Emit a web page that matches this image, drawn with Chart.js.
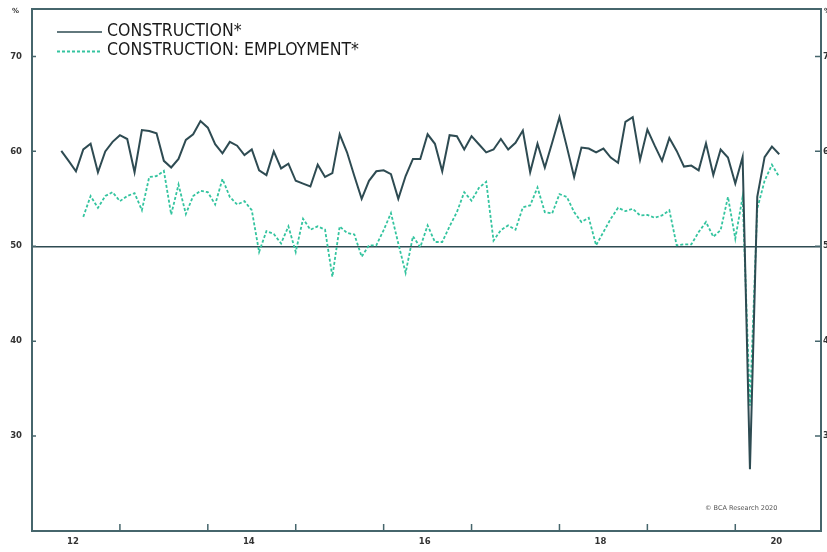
<!DOCTYPE html>
<html><head><meta charset="utf-8">
<script src="https://cdn.jsdelivr.net/npm/chart.js@4"></script>
<style>html,body{margin:0;padding:0;background:#fff;overflow:hidden}#wrap{width:827px;height:552px}</style>
</head><body><div id="wrap"><canvas id="c" width="827" height="552"></canvas></div>
<script>
// first observation: May 2012, monthly
const startYear = 2012, startMonth = 5;
const construction = [60.05, 59.0, 57.9, 60.2, 60.8, 57.8, 60.0, 61.0, 61.7, 61.3,
 57.8, 62.25, 62.15, 61.9, 59.0, 58.3, 59.2, 61.2, 61.8, 63.2,
 62.5, 60.75, 59.8, 61.0, 60.6, 59.6, 60.2, 58.0, 57.5, 60.0,
 58.2, 58.7, 56.9, 56.6, 56.3, 58.6, 57.3, 57.7, 61.8, 59.9,
 57.4, 55.0, 56.9, 57.9, 58.0, 57.6, 55.0, 57.4, 59.2, 59.2,
 61.8, 60.8, 57.9, 61.7, 61.6, 60.2, 61.6, 60.75, 59.9, 60.2,
 61.3, 60.2, 60.9, 62.2, 57.8, 60.8, 58.3, 60.9, 63.6, 60.5,
 57.3, 60.4, 60.3, 59.9, 60.3, 59.35, 58.8, 63.1, 63.6, 59.1,
 62.3, 60.6, 59.0, 61.4, 60.05, 58.4, 58.5, 58.0, 60.85, 57.5,
 60.2, 59.35, 56.6, 59.4, 26.5, 55.2, 59.4, 60.5, 59.7];
const employment = [null, null, null, 53.1, 55.3, 54.05, 55.3, 55.7, 54.75, 55.3,
 55.6, 53.8, 57.3, 57.4, 57.95, 53.35, 56.5, 53.4, 55.3, 55.85,
 55.7, 54.4, 57.1, 55.2, 54.4, 54.75, 53.8, 49.4, 51.6, 51.3,
 50.3, 52.1, 49.4, 52.9, 51.75, 52.1, 51.75, 46.8, 52.1, 51.4,
 51.25, 48.9, 50.1, 50.1, 51.7, 53.5, 50.3, 47.2, 51.05, 49.9,
 52.2, 50.45, 50.45, 52.1, 53.6, 55.7, 54.8, 56.15, 56.8, 50.6,
 51.7, 52.2, 51.75, 54.1, 54.3, 56.2, 53.6, 53.45, 55.5, 55.2,
 53.6, 52.55, 53.0, 50.1, 51.5, 52.9, 54.05, 53.7, 53.95, 53.25,
 53.3, 53.0, 53.25, 53.8, 50.1, 50.2, 50.2, 51.5, 52.55, 51.0,
 51.7, 55.2, 50.8, 55.2, 33.2, 53.95, 56.9, 58.6, 57.3];
const seriesNames = ['CONSTRUCTION*', 'CONSTRUCTION: EMPLOYMENT*'];
const yTicks = [30, 40, 50, 60, 70];
const yearLabels = ['12', '14', '16', '18', '20'];
const yearLabelYears = [2012, 2014, 2016, 2018, 2020];
const yearBoundaries = [2013, 2014, 2015, 2016, 2017, 2018, 2019, 2020];
const copyright = '\u00A9 BCA Research 2020';

// months since Jan 2012
const mpos = i => (startYear - 2012) * 12 + (startMonth - 1) + i;
const ypos = y => (y - 2012) * 12;

const DARK = '#2e4b52', GREEN = '#34c49f', FRAME = '#46666c', TXT = '#333';
const X_MIN = 0, X_MAX = 107.7, Y_MIN = 20, Y_MAX = 75;
const tickFont = {family: 'DejaVu Sans', size: 8.5, weight: 'bold'};

const decor = {
  id: 'decor',
  afterDraw(chart) {
    const {ctx, chartArea: a, scales} = chart;
    const y = scales.y, x = scales.x;
    ctx.save();
    // top frame
    ctx.strokeStyle = FRAME; ctx.lineWidth = 2;
    ctx.beginPath();
    ctx.moveTo(a.left - 1, a.top); ctx.lineTo(a.right + 1, a.top);
    ctx.stroke();
    ctx.lineWidth = 1.5;
    ctx.beginPath();
    yTicks.forEach(v => {
      const p = y.getPixelForValue(v);
      ctx.moveTo(a.left, p); ctx.lineTo(a.left + 4, p);
      ctx.moveTo(a.right - 6, p); ctx.lineTo(a.right, p);
    });
    yearBoundaries.forEach(yr => {
      const p = x.getPixelForValue(ypos(yr));
      ctx.moveTo(p, a.bottom); ctx.lineTo(p, a.bottom - 7);
    });
    ctx.stroke();
    // % units
    ctx.fillStyle = TXT;
    ctx.font = 'bold 7px "DejaVu Sans"';
    ctx.textBaseline = 'middle'; ctx.textAlign = 'left';
    ctx.fillText('%', 12, a.top + 2);
    ctx.fillText('%', a.right + 3, a.top + 2);
    // copyright
    ctx.fillStyle = '#555';
    ctx.font = '6.5px "DejaVu Sans"';
    ctx.fillText(copyright, 705, 508);
    // legend
    const ds = chart.data.datasets;
    const rows = [31, 50];
    const lineRows = [32, 51.5];
    ds.forEach((d, i) => {
      ctx.strokeStyle = d.borderColor;
      ctx.lineWidth = i === 0 ? 1.6 : d.borderWidth;
      ctx.setLineDash(d.borderDash || []);
      ctx.beginPath();
      ctx.moveTo(57, lineRows[i]); ctx.lineTo(102, lineRows[i]);
      ctx.stroke();
      ctx.setLineDash([]);
      ctx.fillStyle = '#1a1a1a';
      ctx.font = '17.5px "DejaVu Sans Condensed"';
      ctx.textBaseline = 'middle';
      ctx.fillText(d.label, 107, rows[i]);
    });
    ctx.restore();
  }
};

const fitY = w => s => { s.width = w; s.paddingTop = 0; s.paddingBottom = 0; };

new Chart(document.getElementById('c'), {
  type: 'line',
  data: {
    datasets: [
      {label: seriesNames[0], data: construction.map((v, i) => ({x: mpos(i), y: v})),
       borderColor: DARK, borderWidth: 2, pointRadius: 0, tension: 0, fill: false},
      {label: seriesNames[1], data: employment.map((v, i) => ({x: mpos(i), y: v})),
       borderColor: GREEN, borderWidth: 1.8, borderDash: [3, 2], pointRadius: 0, tension: 0, fill: false}
    ]
  },
  options: {
    responsive: false, animation: false,
    layout: {padding: {top: 9, left: 0, right: 0, bottom: 0}},
    plugins: {legend: {display: false}, tooltip: {enabled: false}},
    scales: {
      x: {
        type: 'linear', position: 'bottom', min: X_MIN, max: X_MAX,
        afterFit: s => { s.height = 21; s.paddingLeft = 0; s.paddingRight = 0; },
        afterBuildTicks: s => { s.ticks = yearLabelYears.map(yr => ({value: ypos(yr) + 5.6})); },
        ticks: {callback: (v, i) => yearLabels[i], font: tickFont, color: TXT, padding: 6, maxRotation: 0, autoSkip: false},
        grid: {display: true, drawOnChartArea: false, drawTicks: false},
        border: {display: true, color: FRAME, width: 2}
      },
      y: {
        type: 'linear', position: 'left', min: Y_MIN, max: Y_MAX,
        afterFit: fitY(32),
        afterBuildTicks: s => { s.ticks = yTicks.map(v => ({value: v})); },
        ticks: {font: tickFont, color: TXT, padding: 10},
        grid: {drawTicks: false, lineWidth: 1.5,
               color: c => (c.tick && c.tick.value === 50) ? DARK : 'rgba(0,0,0,0)'},
        border: {display: true, color: FRAME, width: 2}
      },
      y2: {
        type: 'linear', position: 'right', min: Y_MIN, max: Y_MAX,
        afterFit: fitY(6),
        afterBuildTicks: s => { s.ticks = yTicks.map(v => ({value: v})); },
        ticks: {font: tickFont, color: TXT, padding: 2},
        grid: {drawOnChartArea: false, drawTicks: false},
        border: {display: true, color: FRAME, width: 2}
      }
    }
  },
  plugins: [decor]
});
</script>
</body></html>
